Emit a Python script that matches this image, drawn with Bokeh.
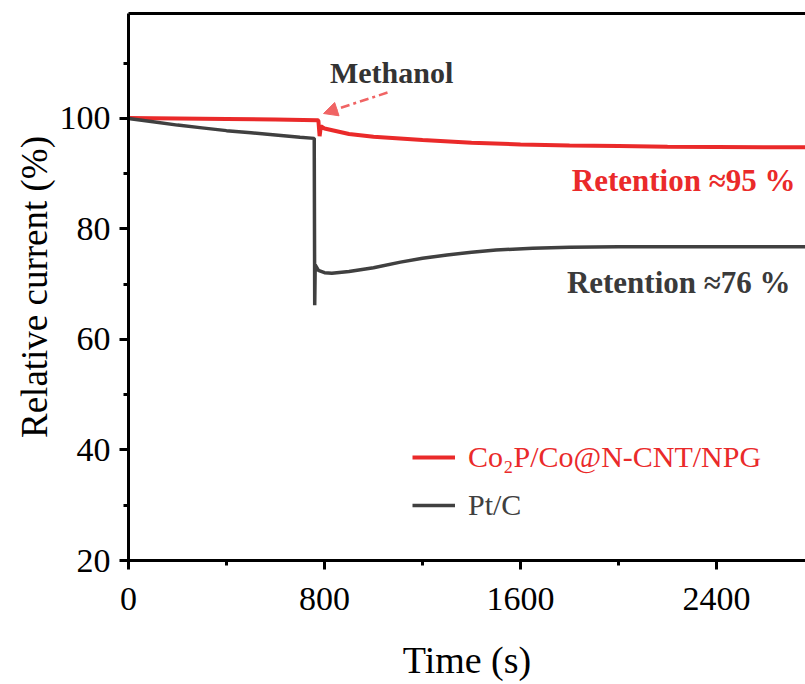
from bokeh.plotting import figure
from bokeh.models import (Legend, LegendItem, Arrow, NormalHead, LinearAxis,
                          FixedTicker, SingleIntervalTicker)
from bokeh.core.properties import value
from bokeh.embed import file_html
from bokeh.resources import INLINE

# ---- data ----
co2p_time = [0, 200, 400, 600, 770, 775, 780, 785, 800, 900, 1000, 1200,
             1400, 1600, 1800, 2000, 2200, 2400, 2600, 2763]
co2p_current = [100.1, 100.0, 99.9, 99.8, 99.7, 99.6, 96.8, 98.6, 98.2, 97.2,
                96.7, 96.1, 95.6, 95.3, 95.1, 95.0, 94.9, 94.85, 94.8, 94.8]

ptc_time = [0, 100, 200, 300, 400, 500, 600, 700, 758, 760, 762, 775, 800,
            830, 900, 1000, 1110, 1200, 1300, 1400, 1500, 1650, 1800, 2000,
            2400, 2763]
ptc_current = [100.0, 99.4, 98.8, 98.3, 97.8, 97.4, 97.0, 96.6, 96.4, 66.2,
               73.5, 72.5, 72.1, 72.0, 72.3, 73.0, 74.0, 74.7, 75.3, 75.8,
               76.2, 76.5, 76.7, 76.8, 76.8, 76.8]

series_names = ["Co\u2082P/Co@N-CNT/NPG", "Pt/C"]
annot_methanol = "Methanol"
annot_ret_co2p = "Retention \u224895 %"
annot_ret_ptc = "Retention \u224876 %"

RED = "#ea2a2a"
GRAY = "#404040"
ARROW_RED = "#f06464"
FONT = "Liberation Serif"

p = figure(width=805, height=684, x_range=(0, 2763), y_range=(20, 119),
           output_backend="svg", toolbar_location=None,
           min_border_left=128, min_border_right=0, min_border_top=13,
           min_border_bottom=124, x_axis_label="Time (s)",
           y_axis_label="Relative current (%)")
p.grid.visible = False
p.outline_line_color = None
p.background_fill_color = "white"

p.xaxis.ticker = SingleIntervalTicker(interval=800, num_minor_ticks=2)
p.yaxis.ticker = SingleIntervalTicker(interval=20, num_minor_ticks=2)

for ax in (p.xaxis[0], p.yaxis[0]):
    ax.axis_line_width = 3
    ax.axis_line_color = "black"
    ax.major_tick_line_width = 3
    ax.minor_tick_line_width = 3
    ax.major_tick_out = 9
    ax.major_tick_in = 0
    ax.minor_tick_out = 5
    ax.minor_tick_in = 0
    ax.major_label_text_font = FONT
    ax.major_label_text_font_size = "34px"
    ax.major_label_text_color = "black"
    ax.axis_label_text_font = FONT
    ax.axis_label_text_font_size = "37px"
    ax.axis_label_text_font_style = "normal"
    ax.axis_label_text_color = "black"

p.xaxis.axis_label_text_font_size = "38px"
p.yaxis.major_label_standoff = 9
p.yaxis.axis_label_standoff = 2
p.xaxis.major_label_standoff = 18
p.xaxis.axis_label_standoff = 26

top = LinearAxis(ticker=FixedTicker(ticks=[]), axis_line_width=3,
                 axis_line_color="black", major_label_text_font_size="0px",
                 major_tick_line_color=None, minor_tick_line_color=None)
p.add_layout(top, "above")

r_red = p.line(co2p_time, co2p_current, line_color=RED, line_width=4)
r_gray = p.line(ptc_time, ptc_current, line_color=GRAY, line_width=3.5)

# annotations
p.text(x=[1074], y=[108.3], text=[annot_methanol], text_font=value(FONT),
       text_font_style="bold", text_font_size="30px", text_color="#333333",
       text_align="center", text_baseline="middle")
p.text(x=[2722], y=[88.8], text=[annot_ret_co2p], text_font=value(FONT),
       text_font_style="bold", text_font_size="31px", text_color=RED,
       text_align="right", text_baseline="middle")
p.text(x=[2702], y=[70.3], text=[annot_ret_ptc], text_font=value(FONT),
       text_font_style="bold", text_font_size="31px", text_color="#3a3a3a",
       text_align="right", text_baseline="middle")

p.add_layout(Arrow(x_start=1057, y_start=104.7, x_end=796, y_end=100.9,
                   line_color=ARROW_RED, line_width=2.5, line_dash="9 4 3 4",
                   end=NormalHead(size=14, fill_color=ARROW_RED,
                                  line_color=ARROW_RED)))

# legends (one per entry to colour the labels)
for name, rend, col, loc in ((series_names[0], r_red, RED, (284, 86)),
                             (series_names[1], r_gray, GRAY, (284, 38))):
    lg = Legend(items=[LegendItem(label=name, renderers=[rend])],
                location=loc, padding=0, margin=0, spacing=0,
                glyph_width=43, glyph_height=30, label_height=30,
                label_standoff=13, border_line_color=None,
                background_fill_alpha=0, label_text_font=FONT,
                label_text_font_size="30px", label_text_color=col)
    p.add_layout(lg, "center")

open("out.html", "w").write(file_html(p, INLINE))
